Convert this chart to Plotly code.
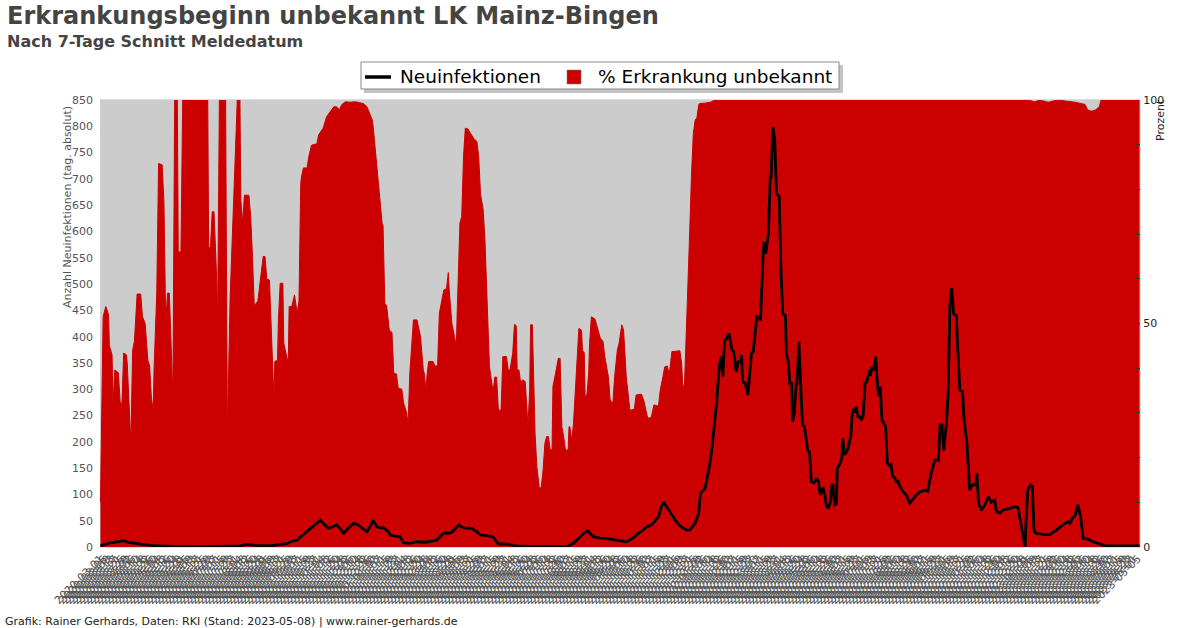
import pandas as pd
import plotly.graph_objects as go

start_date = pd.Timestamp("2020-03-01")
n_days = 1162

# --- % Erkrankung unbekannt (day offset from start_date, percent) ---
pct_days = [0, 2, 3, 6, 9, 10, 13, 14, 16, 20,
            22, 24, 26, 29, 30, 34, 36, 38, 41, 45,
            47, 50, 53, 55, 57, 59, 60, 63, 65, 69,
            71, 73, 75, 77, 79, 81, 83, 86, 87, 90,
            92, 109, 110, 111, 120, 121, 123, 125, 127, 130,
            131, 133, 140, 141, 142, 145, 148, 151, 153, 156,
            157, 159, 161, 166, 168, 170, 172, 176, 179, 182,
            184, 186, 189, 192, 194, 195, 198, 199, 201, 204,
            205, 210, 211, 214, 217, 220, 222, 224, 225, 227,
            231, 233, 236, 242, 244, 249, 253, 257, 261, 264,
            267, 270, 274, 279, 285, 294, 298, 299, 304, 305,
            307, 309, 311, 315, 316, 318, 320, 323, 326, 328,
            331, 333, 337, 339, 342, 344, 346, 350, 354, 358,
            361, 362, 364, 365, 367, 372, 374, 377, 379, 384,
            387, 389, 390, 393, 396, 398, 399, 402, 404, 406,
            408, 411, 414, 417, 421, 423, 425, 428, 430, 433,
            435, 438, 439, 441, 443, 445, 448, 450, 454, 456,
            458, 461, 463, 465, 466, 468, 470, 472, 475, 477,
            478, 480, 481, 483, 485, 486, 488, 491, 493, 495,
            497, 499, 501, 503, 505, 506, 509, 512, 514, 516,
            518, 520, 523, 524, 525, 527, 529, 531, 533, 535,
            538, 539, 541, 542, 544, 546, 547, 549, 553, 556,
            559, 562, 564, 568, 570, 573, 575, 578, 580, 583,
            585, 588, 590, 592, 597, 599, 605, 608, 610, 612,
            616, 619, 624, 626, 629, 631, 634, 636, 639, 644,
            648, 650, 651, 653, 655, 657, 659, 661, 663, 665,
            667, 669, 670, 676, 682, 687, 1037, 1045, 1050, 1060,
            1070, 1090, 1101, 1104, 1108, 1113, 1117, 1119, 1162]
pct_values = [10, 45, 51.5, 53.8, 52, 45, 43, 32, 39.6, 39,
              32.5, 32, 43.4, 43, 41, 23, 44, 46, 56.6, 56.6,
              51.5, 50, 41.8, 40.5, 33.3, 30.6, 40, 57, 85.8, 85.5,
              77, 50, 56.8, 56.8, 44.5, 33.6, 100, 100, 66, 66,
              100, 100, None, 100, 100, 67, 67, 75, 75, 60,
              50, 100, 100, 60, 25.5, 55.7, 71, 87.3, 100, 100,
              77.6, 72.5, 78.7, 78.7, 73.9, 65, 54, 55, 59.7, 65,
              65, 60, 59.7, 43.4, 33, 41.5, 41.8, 50.8, 59, 59,
              45.6, 41, 53.8, 53.8, 56.4, 52.3, 55, 81.4, 83, 84.8,
              84.8, 87.3, 89.9, 90.2, 92.2, 93.7, 96.3, 97.4, 98.5, 98.5,
              97.8, 99, 99.6, 99.5, 99.6, 99.2, 98.5, 98, 95.5, 94,
              89.6, 85, 79.9, 72.4, 72, 54.5, 54, 48.5, 48, 38.9,
              38.7, 35.5, 35.3, 32.2, 30.3, 27.7, 38.9, 50.8, 50.8, 47,
              39.6, 39, 35, 38, 41.5, 41.5, 40.5, 40.5, 52.3, 57.5,
              57.8, 61.4, 57.5, 50, 47, 44.8, 53, 72.5, 73.9, 87.3,
              93.7, 93.5, 92.5, 91.5, 90.7, 87.3, 79, 75.4, 68.7, 50,
              40.3, 36.2, 34.7, 38, 38, 30.6, 30.6, 42.6, 42.6, 39.6,
              39.6, 43.3, 49.8, 49.5, 39.6, 39.6, 36.6, 37.4, 37, 30.6,
              26.9, 35, 49.7, 49.7, 35, 25.4, 18, 12.8, 13.5, 17.2,
              23.2, 24.7, 24.7, 21.7, 21.7, 35.9, 38.9, 42.2, 42.2, 26.9,
              24.7, 21.7, 21.7, 26.9, 26.9, 23.9, 27.7, 35.1, 43.3, 48.9,
              48.5, 44, 43.5, 33.6, 34, 38.9, 45.6, 51.5, 51, 48.5,
              46.7, 46, 42.6, 38.1, 32.9, 32.1, 38.1, 44, 45.6, 49.7,
              48.5, 38.1, 33.6, 30.6, 30.8, 34, 34.2, 32.5, 30.6, 28.8,
              29, 31.8, 31.5, 35.1, 38.1, 40.3, 40.5, 38.5, 43.7, 43.8,
              43.9, 41, 36.6, 35.5, 46.3, 59, 70.9, 83.6, 92.5, 95.5,
              96, 98.9, 99.2, 99.3, 99.5, 100, 100, 99.6, 100, 99.5,
              100, 99.5, 99, 97.8, 97.5, 97.8, 98.5, 100, 100]

# --- Neuinfektionen (7-Tage Schnitt, absolute) ---
case_days = [0, 6, 11, 19, 26, 31, 37, 48, 56, 67,
             82, 112, 145, 156, 164, 173, 190, 209, 212, 220,
             224, 227, 231, 235, 238, 242, 246, 249, 255, 259,
             264, 268, 272, 277, 283, 288, 293, 298, 302, 305,
             309, 313, 316, 322, 324, 330, 335, 339, 346, 354,
             363, 369, 376, 380, 384, 389, 393, 397, 401, 404,
             408, 415, 420, 425, 432, 439, 442, 445, 454, 465,
             480, 503, 522, 529, 536, 541, 545, 548, 551, 559,
             566, 573, 581, 588, 594, 600, 606, 611, 615, 618,
             624, 626, 629, 631, 634, 637, 640, 644, 648, 652,
             655, 659, 662, 665, 669, 671, 676, 678, 681, 684,
             687, 689, 692, 694, 696, 698, 700, 703, 706, 708,
             711, 713, 716, 717, 718, 721, 724, 726, 728, 730,
             734, 737, 738, 741, 742, 744, 747, 749, 750, 752,
             754, 756, 759, 761, 763, 766, 767, 769, 771, 773,
             774, 776, 778, 779, 781, 783, 785, 787, 790, 791,
             793, 795, 798, 801, 803, 805, 806, 808, 810, 812,
             814, 816, 818, 819, 821, 823, 824, 826, 829, 830,
             832, 834, 836, 839, 841, 844, 845, 847, 849, 851,
             853, 855, 857, 860, 861, 863, 865, 867, 868, 870,
             871, 872, 874, 876, 878, 880, 882, 884, 886, 888,
             890, 892, 894, 897, 901, 905, 909, 912, 916, 922,
             925, 929, 933, 937, 939, 941, 943, 946, 948, 950,
             952, 954, 957, 959, 961, 964, 966, 969, 972, 975,
             979, 980, 982, 985, 989, 993, 996, 1000, 1002, 1006,
             1009, 1017, 1022, 1026, 1029, 1032, 1034, 1035, 1037, 1040,
             1042, 1044, 1046, 1054, 1061, 1069, 1076, 1082, 1084, 1087,
             1090, 1093, 1096, 1099, 1104, 1110, 1117, 1124, 1162]
case_values = [2, 5, 8, 10, 12, 9, 7.6, 4, 3, 2,
               1, 0.5, 1, 2, 5, 3, 2, 7, 10, 13,
               19.6, 24, 29, 34, 38.6, 45, 51, 45, 35.5, 38,
               41.8, 35, 26, 35, 45, 42, 35, 29, 40, 51,
               38.6, 36, 37, 29, 22.8, 20, 19.6, 8, 7, 10,
               9, 11, 13, 20, 27, 26, 28, 35, 41.8, 38,
               36, 35.5, 30, 22.8, 21, 19.6, 12, 5.7, 5.7, 2,
               1, 0.5, 1, 7, 19.6, 27, 31, 26, 19.6, 17,
               16.5, 14, 12, 10, 15, 24, 31, 38.6, 41, 45,
               57.7, 70, 86, 82, 73.6, 66, 57.7, 48, 40, 35.5,
               32.3, 32, 38, 45, 64, 102, 111.6, 127, 152.7, 190.7,
               235, 273, 343, 362, 324, 394, 395, 406, 375, 372,
               333, 352, 352, 365, 314, 312, 289, 330, 368, 372,
               438, 436, 430, 552, 580, 558, 596.5, 704, 704, 799,
               774, 672, 666, 527, 444, 440, 368, 355, 311, 311,
               238, 255, 311, 311, 390, 311, 232, 230, 194, 184,
               180, 124, 122, 130.6, 124, 99, 103, 113, 99, 76.6,
               75, 83, 118, 118, 80, 82, 149.6, 155, 168.6, 206.7,
               175, 180, 187.7, 209.7, 260.5, 258, 266.8, 247.8, 248, 241.5,
               250, 311, 314, 336.6, 325, 343, 336, 362, 330, 289,
               288, 305, 241.5, 236, 229, 159, 155, 157, 133.7, 132,
               124, 125, 115, 106, 99, 83, 92.6, 98, 104, 108,
               106, 140, 165, 165, 232, 232, 184, 235, 292, 463,
               492, 444, 440, 362, 298.5, 295, 238, 197, 108, 118,
               118, 140, 83, 70, 80, 95.6, 85, 89, 67, 65,
               70, 73.6, 76.6, 75, 45, 13, 0, 45, 108, 118,
               115, 32, 26, 24, 23, 32, 42, 48, 45, 54.6,
               60, 80, 57.7, 16.5, 15, 10, 5.7, 2, 2]

left_ticks = list(range(0, 851, 50))
right_ticks = list(range(0, 101, 10))
right_ticktext = ["0", "", "", "", "", "50", "", "", "", "", "100"]
label_step_days = 4
series_names = ["Neuinfektionen", "% Erkrankung unbekannt"]

pct_x = [start_date + pd.Timedelta(days=d) for d in pct_days]
case_x = [start_date + pd.Timedelta(days=d) for d in case_days]
x_ticks = [start_date + pd.Timedelta(days=d) for d in range(0, n_days + 1, label_step_days)]
x_ticktext = [t.strftime("%Y-%m-%d") for t in x_ticks]

FONT = "DejaVu Sans"
RED = "#cc0000"

fig = go.Figure()
fig.add_trace(go.Scatter(
    x=pct_x, y=pct_values, mode="lines", fill="tozeroy",
    fillcolor=RED, line=dict(color=RED, width=1),
    connectgaps=False, name=series_names[1], hoverinfo="skip", yaxis="y"))
fig.add_trace(go.Scatter(
    x=case_x, y=case_values, mode="lines",
    line=dict(color="black", width=2.8),
    name=series_names[0], yaxis="y2"))

W, H = 1200, 628
L, R, T, B = 100, 60, 100, 81
pw, ph = W - L - R, H - T - B


def px(x):
    return (x - L) / pw


def py(y):
    return (H - B - y) / ph


# manual legend (box, shadow, symbols)
legend_shapes = [
    dict(type="rect", xref="paper", yref="paper",
         x0=px(364), x1=px(843), y0=py(93), y1=py(65),
         fillcolor="#c4c4c4", line=dict(width=0), layer="above"),
    dict(type="rect", xref="paper", yref="paper",
         x0=px(361), x1=px(839), y0=py(89), y1=py(62),
         fillcolor="white", line=dict(color="#888", width=1), layer="above"),
    dict(type="line", xref="paper", yref="paper",
         x0=px(365), x1=px(391), y0=py(77), y1=py(77),
         line=dict(color="black", width=3.5), layer="above"),
    dict(type="rect", xref="paper", yref="paper",
         x0=px(567), x1=px(581), y0=py(84), y1=py(70),
         fillcolor=RED, line=dict(color="#777", width=0.5), layer="above"),
]

fig.update_layout(
    width=W, height=H,
    margin=dict(l=L, r=R, t=T, b=B),
    paper_bgcolor="white", plot_bgcolor="#cccccc",
    font=dict(family=FONT, color="#444"),
    showlegend=False,
    title=dict(text="<b>Erkrankungsbeginn unbekannt LK Mainz-Bingen</b>",
               x=7 / W, xanchor="left", xref="container",
               y=1 - 16 / H, yanchor="middle", yref="container",
               font=dict(family=FONT, size=24, color="#444")),
    xaxis=dict(type="date",
               range=[start_date - pd.Timedelta(hours=12),
                      start_date + pd.Timedelta(days=n_days, hours=12)],
               tickmode="array", tickvals=x_ticks, ticktext=x_ticktext,
               tickangle=-45, tickfont=dict(size=11, color="#555"),
               showgrid=False, zeroline=False, ticks="",
               showline=True, linecolor="#dddddd", mirror=True),
    yaxis=dict(side="right", range=[0, 100],
               tickmode="array", tickvals=right_ticks, ticktext=right_ticktext,
               ticks="inside", ticklen=4, tickcolor="#333",
               tickfont=dict(size=11, color="#222"),
               showgrid=False, zeroline=False,
               showline=True, linecolor="#dddddd"),
    yaxis2=dict(overlaying="y", side="left", range=[0, 850],
                tickmode="array", tickvals=left_ticks,
                tickfont=dict(size=11, color="#555"),
                showgrid=False, zeroline=False, ticks="",
                ticklabelstandoff=6, showline=False),
    shapes=legend_shapes,
    annotations=[
        dict(text="<b>Nach 7-Tage Schnitt Meldedatum</b>", xref="paper", yref="paper",
             x=px(5), y=py(41), xanchor="left", yanchor="middle", showarrow=False,
             font=dict(family=FONT, size=16, color="#444")),
        dict(text="Anzahl Neuinfektionen (tag. absolut)", xref="paper", yref="paper",
             x=px(68), y=py(207), xanchor="center", yanchor="middle", textangle=-90,
             showarrow=False, font=dict(family=FONT, size=11, color="#555")),
        dict(text="Prozent", xref="paper", yref="paper",
             x=px(1160), y=py(120), xanchor="center", yanchor="middle", textangle=-90,
             showarrow=False, font=dict(family=FONT, size=11, color="#222")),
        dict(text="Grafik: Rainer Gerhards, Daten: RKI (Stand: 2023-05-08) | www.rainer-gerhards.de",
             xref="paper", yref="paper", x=px(3), y=py(621), xanchor="left", yanchor="middle",
             showarrow=False, font=dict(family=FONT, size=11, color="#222")),
        dict(text=series_names[0], xref="paper", yref="paper",
             x=px(398), y=py(77), xanchor="left", yanchor="middle", showarrow=False,
             font=dict(family=FONT, size=18.5, color="black")),
        dict(text=series_names[1], xref="paper", yref="paper",
             x=px(596), y=py(77), xanchor="left", yanchor="middle", showarrow=False,
             font=dict(family=FONT, size=18.5, color="black")),
    ],
)

fig.write_html("out.html",
               config={"displayModeBar": False},
               post_script="document.body.style.margin='0px';document.body.style.overflow='hidden';")
